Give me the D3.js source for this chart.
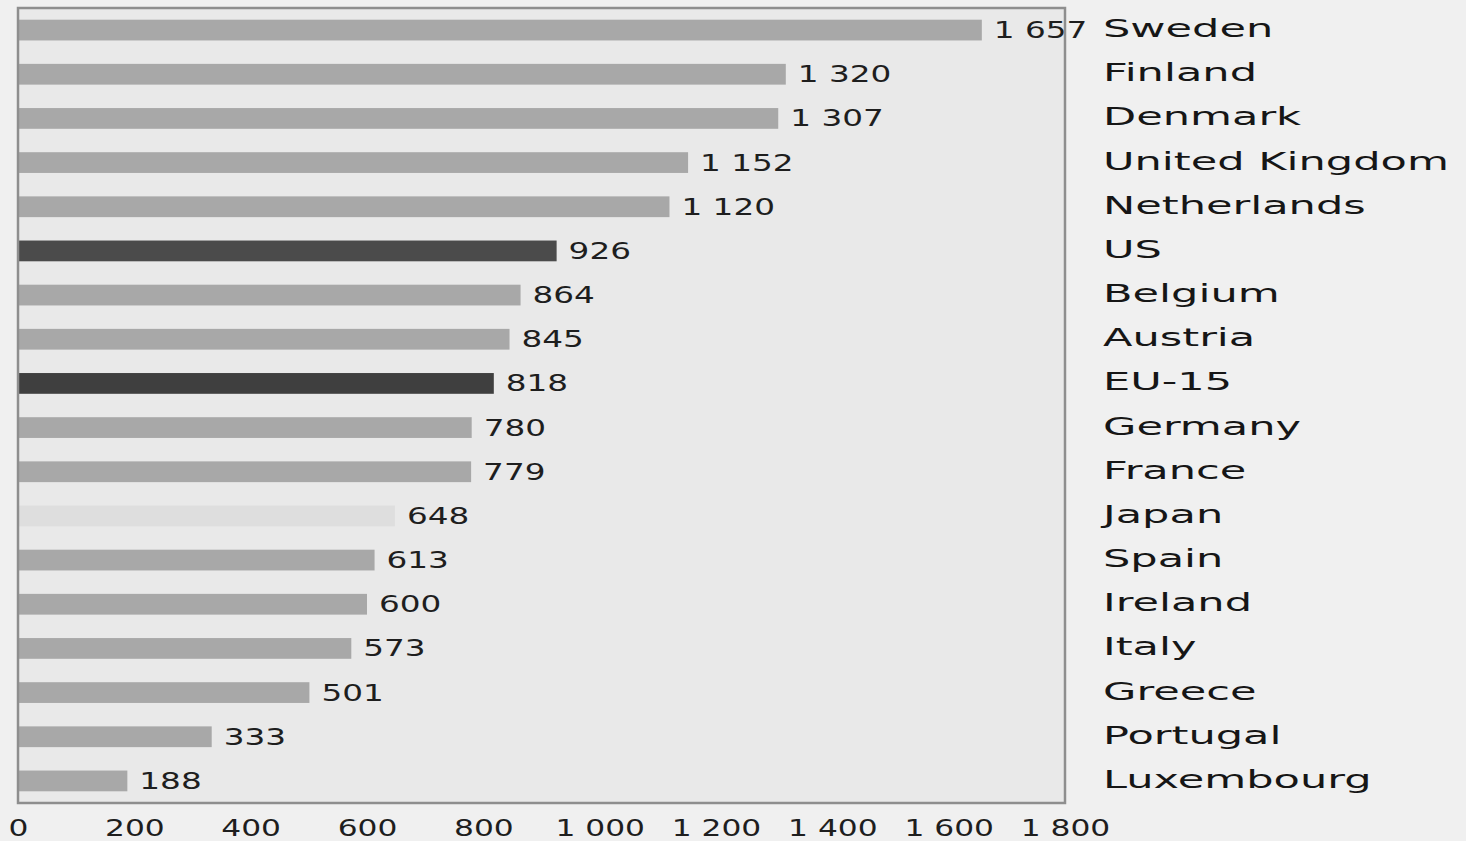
<!DOCTYPE html>
<html><head><meta charset="utf-8">
<script src="https://cdn.jsdelivr.net/npm/d3@7/dist/d3.min.js"></script>
<style>
html,body{margin:0;padding:0;background:#f0f0f0;}
svg{display:block;}
</style></head>
<body>
<svg id="chart" width="1466" height="841"></svg>
<script>
const countries = ["Sweden","Finland","Denmark","United Kingdom","Netherlands","US","Belgium","Austria","EU-15","Germany","France","Japan","Spain","Ireland","Italy","Greece","Portugal","Luxembourg"];
const values = [1657,1320,1307,1152,1120,926,864,845,818,780,779,648,613,600,573,501,333,188];
const groups = ["eu","eu","eu","eu","eu","us","eu","eu","eu15","eu","eu","jp","eu","eu","eu","eu","eu","eu"];
const xTicks = [0,200,400,600,800,1000,1200,1400,1600,1800];

const colors = {eu:"#a8a8a8", us:"#4b4b4b", eu15:"#3f3f3f", jp:"#dedede"};
const fmt = v => { const s = String(v); return s.length > 3 ? s.slice(0, s.length-3) + " " + s.slice(-3) : s; };

const svg = d3.select("#chart");
const L = 18, R = 1065, T = 8, B = 803;
const x = d3.scaleLinear().domain([0,1800]).range([L,R]);
const y = d3.scaleBand().domain(countries).range([T,B]).paddingInner(0.53).paddingOuter(0.265);

svg.append("rect").attr("x",L).attr("y",T).attr("width",R-L).attr("height",B-T).attr("fill","#e9e9e9");

const data = countries.map((c,i)=>({c, v:values[i], g:groups[i]}));

svg.append("g").selectAll("rect").data(data).join("rect")
  .attr("x", x(0)).attr("y", d=>y(d.c)).attr("width", d=>x(d.v)-x(0)).attr("height", y.bandwidth())
  .attr("fill", d=>colors[d.g]);

const font = "DejaVu Sans";
// value labels
svg.append("g").selectAll("text").data(data).join("text")
  .attr("transform", d=>`translate(${x(d.v)+12},${y(d.c)+y.bandwidth()/2+8}) scale(1.42,1)`)
  .attr("font-family", font).attr("font-size", 23).attr("fill","#1e1e1e")
  .text(d=>fmt(d.v));

// country labels
svg.append("g").selectAll("text").data(data).join("text")
  .attr("transform", d=>`translate(1103,${y(d.c)+y.bandwidth()/2+7}) scale(1.76,1)`)
  .attr("font-family", font).attr("font-size", 24.5).attr("fill","#161616")
  .text(d=>d.c);

// frame (drawn over labels)
svg.append("rect").attr("x",L).attr("y",T).attr("width",R-L).attr("height",B-T)
  .attr("fill","none").attr("stroke","#8e8e8e").attr("stroke-width",2.5);

// x axis tick labels
const ax = svg.append("g").attr("transform",`translate(0,${B})`)
  .call(d3.axisBottom(x).tickValues(xTicks).tickSize(0).tickPadding(0).tickFormat(fmt));
ax.select(".domain").remove();
ax.selectAll("text")
  .attr("y", null).attr("dy", null).attr("x", null)
  .attr("transform","translate(0,33) scale(1.36,1)")
  .attr("font-family", font).attr("font-size", 23).attr("fill","#1e1e1e");
</script>
</body></html>
